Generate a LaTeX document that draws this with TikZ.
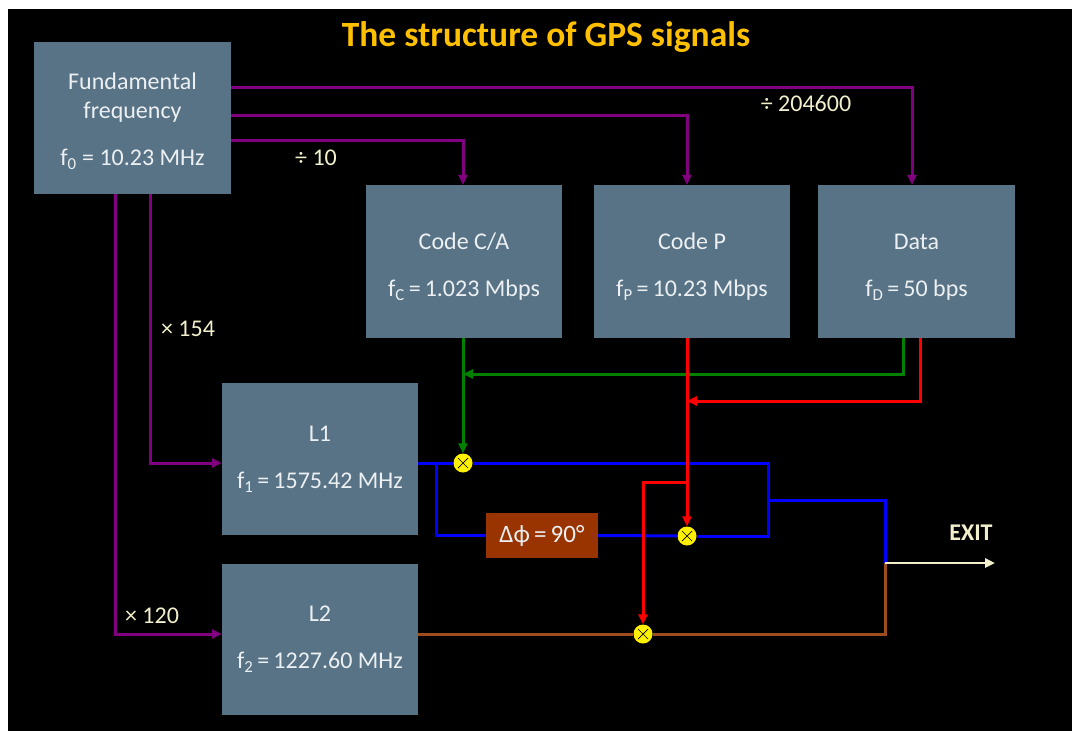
\documentclass[tikz,border=0pt]{standalone}
\usepackage{fontspec}
\setmainfont{Carlito}
\usetikzlibrary{arrows.meta,positioning,calc}
\definecolor{slate}{RGB}{88,115,134}
\definecolor{boxtxt}{RGB}{236,240,242}
\definecolor{cream}{RGB}{242,240,204}
\definecolor{gold}{RGB}{255,192,0}
\definecolor{pu}{RGB}{128,0,128}
\definecolor{gr}{RGB}{0,128,0}
\definecolor{rd}{RGB}{255,0,0}
\definecolor{bl}{RGB}{0,0,255}
\definecolor{brn}{RGB}{158,78,30}
\definecolor{rust}{RGB}{153,51,0}
\definecolor{mixyel}{RGB}{255,240,0}

\begin{document}
\begin{tikzpicture}[x=1pt,y=-1pt,
    bx/.style={fill=slate,minimum width=196pt,minimum height=152pt,inner sep=0pt,align=center,text=boxtxt,font=\fontsize{24}{29}\selectfont},
    lbl/.style={text=cream,font=\fontsize{24}{28}\selectfont},
    ln/.style={line width=3pt},
    ar/.style={ln,-{Triangle[length=10pt,width=9pt]}},
    mix/.style={circle,fill=mixyel,minimum size=19pt,inner sep=0pt,
        path picture={\draw[black,line width=0.7pt]
            ([shift={(-5pt,-5pt)}]path picture bounding box.center) -- ([shift={(5pt,5pt)}]path picture bounding box.center)
            ([shift={(-5pt,5pt)}]path picture bounding box.center) -- ([shift={(5pt,-5pt)}]path picture bounding box.center);}}
]
\useasboundingbox[fill=white] (0,0) rectangle (1072,731);
\fill[black] (8,9) rectangle (1072,731);

\node[text=gold,font=\fontsize{35.5}{42}\selectfont\bfseries] (title) at (546,37) {The structure of GPS signals};

\node[bx,minimum width=197pt] (fund) at (132.5,118) {\rule{0pt}{23pt}Fundamental\\frequency\\[18pt]f\textsubscript{0} = 10.23 MHz};
\node[bx,minimum height=153pt] (codeca) at (464,261.5) {\rule{0pt}{27pt}Code C/A\\[18pt]f\textsubscript{C}\,=\,1.023 Mbps};
\node[bx,minimum height=153pt] (codep) at (692,261.5) {\rule{0pt}{27pt}Code P\\[18pt]f\textsubscript{P}\,=\,10.23 Mbps};
\node[bx,minimum width=197pt,minimum height=153pt] (data) at (916.5,261.5) {\rule{0pt}{27pt}Data\\[18pt]f\textsubscript{D}\,=\,50 bps};
\node[bx] (l1) at (320,459) {L1\\[18pt]f\textsubscript{1}\,=\,1575.42 MHz};
\node[bx,minimum height=151pt] (l2) at (320,639.5) {L2\\[18pt]f\textsubscript{2}\,=\,1227.60 MHz};
\node[fill=rust,minimum width=112pt,minimum height=45pt,inner sep=0pt,text=boxtxt,font=\fontsize{25}{29}\selectfont] (dphi) at (542,535.5) {Δϕ\,=\,90°};

\node[mix] (m1) at (463,463) {};
\node[mix] (m2) at (687,536) {};
\node[mix] (m3) at (643,634) {};
\coordinate (jn) at (885,563);
\coordinate (out) at (995,563);

\draw[ar,pu] (fund.east |- 0,87) -| ([xshift=-4.5pt]data.north);
\draw[ar,pu] (fund.east |- 0,115) -| ([xshift=-5pt]codep.north);
\draw[ar,pu] (fund.east |- 0,140) -| ([xshift=-1pt]codeca.north);
\draw[ar,pu] (fund.south -| 150,0) |- ([yshift=-4pt]l1.west);
\draw[ar,pu] (fund.south -| 115,0) |- ([yshift=5.5pt]l2.west);
\node[lbl] (div10) at (316,158) {÷ 10};
\node[lbl] (div204) at (806,103) {÷ 204600};
\node[lbl] (mul154) at (188,329) {× 154};
\node[lbl] (mul120) at (152,616) {× 120};

\draw[ar,gr] (m1 |- codeca.south) -- (m1);
\draw[ar,gr] (data.south -| 903,0) |- (m1 |- 0,374);
\draw[ar,rd] (data.south -| 920,0) |- (m2 |- 0,401);

\draw[ln,bl] (l1.east |- m1) -- (m1);
\draw[ln,bl] (m1) -- (768,463) |- (m2);
\draw[ln,bl] (436,463) |- (dphi.west);
\draw[ln,bl] (dphi.east) -- (m2);
\draw[ln,bl] (768,500) -| (jn);
\draw[ln,brn] (l2.east |- m3) -- (m3);
\draw[ln,brn] (m3) -| (jn);

\draw[ar,rd] (m2 |- codep.south) -- (m2);
\draw[ar,rd] (m2 |- 0,482) -| (m3);

\draw[line width=2.5pt,cream,-{Triangle[length=10pt,width=9pt]}] (jn) -- (out);
\node[text=cream,font=\fontsize{24}{28}\selectfont\bfseries] (exit) at (971,533) {EXIT};
\end{tikzpicture}
\end{document}
